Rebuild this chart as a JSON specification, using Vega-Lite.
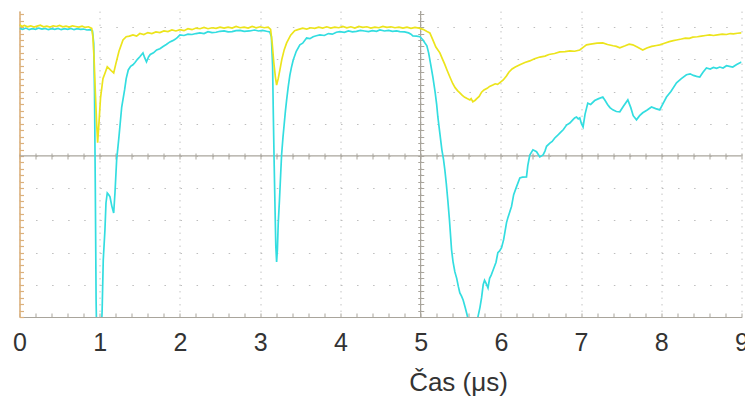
{
  "$schema": "https://vega.github.io/schema/vega-lite/v6.json",
  "width": 722,
  "height": 306,
  "autosize": {"type": "none"},
  "padding": {"left": 19.5, "top": 11, "right": 3.5, "bottom": 84},
  "background": "white",
  "config": {"view": {"stroke": null}, "font": "Liberation Sans"},
  "resolve": {"axis": {"x": "independent", "y": "independent"}},
  "layer": [
    {
      "data": {"values": [{}]},
      "mark": {"type": "rule", "color": "#a9a59c", "strokeWidth": 1.2},
      "encoding": {"y": {"datum": 0, "type": "quantitative", "scale": {"domain": [-5, 4.5], "nice": false, "zero": false}, "axis": null}}
    },
    {
      "data": {"values": [{}]},
      "mark": {"type": "rule", "color": "#a9a59c", "strokeWidth": 1.2},
      "encoding": {"x": {"datum": 5, "type": "quantitative", "scale": {"domain": [0, 9], "nice": false, "zero": false}, "axis": null}}
    },
    {
      "data": {"values": [
{"t":0,"v":3.96},{"t":0.04,"v":3.93},{"t":0.08,"v":3.97},{"t":0.12,"v":3.92},{"t":0.16,"v":3.95},{"t":0.2,"v":3.93},{"t":0.24,"v":3.97},{"t":0.28,"v":3.94},{"t":0.32,"v":3.96},{"t":0.36,"v":3.92},{"t":0.4,"v":3.95},{"t":0.44,"v":3.93},{"t":0.48,"v":3.96},{"t":0.52,"v":3.92},{"t":0.56,"v":3.95},{"t":0.6,"v":3.93},{"t":0.64,"v":3.96},{"t":0.68,"v":3.92},{"t":0.72,"v":3.95},{"t":0.76,"v":3.93},{"t":0.8,"v":3.94},{"t":0.84,"v":3.91},{"t":0.88,"v":3.92},{"t":0.91,"v":3.88},{"t":0.925,"v":3.5},{"t":0.935,"v":2.0},{"t":0.945,"v":-1.0},{"t":0.955,"v":-4.5},{"t":0.965,"v":-6.0},{"t":0.99,"v":-6.5},{"t":1.015,"v":-5.8},{"t":1.03,"v":-4.8},{"t":1.044,"v":-3.23},{"t":1.065,"v":-2.3},{"t":1.078,"v":-1.46},{"t":1.094,"v":-1.15},{"t":1.11,"v":-1.2},{"t":1.128,"v":-1.27},{"t":1.15,"v":-1.55},{"t":1.174,"v":-1.77},{"t":1.19,"v":-1.15},{"t":1.211,"v":-0.12},{"t":1.24,"v":0.6},{"t":1.274,"v":1.52},{"t":1.31,"v":2.05},{"t":1.33,"v":2.4},{"t":1.356,"v":2.67},{"t":1.385,"v":2.78},{"t":1.414,"v":2.83},{"t":1.44,"v":2.9},{"t":1.47,"v":3.0},{"t":1.5,"v":3.08},{"t":1.539,"v":3.2},{"t":1.56,"v":3.05},{"t":1.583,"v":2.92},{"t":1.61,"v":3.08},{"t":1.63,"v":3.15},{"t":1.67,"v":3.2},{"t":1.71,"v":3.29},{"t":1.75,"v":3.33},{"t":1.79,"v":3.4},{"t":1.83,"v":3.46},{"t":1.875,"v":3.54},{"t":1.91,"v":3.58},{"t":1.94,"v":3.62},{"t":1.97,"v":3.68},{"t":2.0,"v":3.76},{"t":2.05,"v":3.74},{"t":2.1,"v":3.78},{"t":2.15,"v":3.77},{"t":2.2,"v":3.8},{"t":2.249,"v":3.82},{"t":2.3,"v":3.8},{"t":2.35,"v":3.86},{"t":2.4,"v":3.83},{"t":2.45,"v":3.84},{"t":2.5,"v":3.87},{"t":2.55,"v":3.88},{"t":2.6,"v":3.85},{"t":2.65,"v":3.86},{"t":2.7,"v":3.89},{"t":2.75,"v":3.9},{"t":2.8,"v":3.87},{"t":2.87,"v":3.88},{"t":2.93,"v":3.91},{"t":2.98,"v":3.88},{"t":3.03,"v":3.9},{"t":3.08,"v":3.87},{"t":3.12,"v":3.85},{"t":3.14,"v":3.7},{"t":3.155,"v":2.8},{"t":3.163,"v":1.43},{"t":3.175,"v":-0.3},{"t":3.185,"v":-1.6},{"t":3.195,"v":-2.8},{"t":3.205,"v":-3.29},{"t":3.215,"v":-2.9},{"t":3.225,"v":-2.1},{"t":3.24,"v":-1.4},{"t":3.255,"v":-0.6},{"t":3.267,"v":0.03},{"t":3.285,"v":0.6},{"t":3.3,"v":1.0},{"t":3.315,"v":1.4},{"t":3.33,"v":1.74},{"t":3.35,"v":2.15},{"t":3.37,"v":2.5},{"t":3.39,"v":2.75},{"t":3.412,"v":2.98},{"t":3.45,"v":3.25},{"t":3.495,"v":3.45},{"t":3.53,"v":3.5},{"t":3.579,"v":3.66},{"t":3.62,"v":3.64},{"t":3.66,"v":3.7},{"t":3.7,"v":3.73},{"t":3.745,"v":3.76},{"t":3.8,"v":3.74},{"t":3.85,"v":3.8},{"t":3.9,"v":3.78},{"t":3.95,"v":3.84},{"t":3.994,"v":3.86},{"t":4.05,"v":3.84},{"t":4.1,"v":3.88},{"t":4.15,"v":3.85},{"t":4.2,"v":3.87},{"t":4.25,"v":3.9},{"t":4.3,"v":3.88},{"t":4.35,"v":3.86},{"t":4.4,"v":3.89},{"t":4.45,"v":3.87},{"t":4.492,"v":3.91},{"t":4.55,"v":3.88},{"t":4.6,"v":3.9},{"t":4.65,"v":3.87},{"t":4.7,"v":3.88},{"t":4.741,"v":3.86},{"t":4.8,"v":3.85},{"t":4.85,"v":3.82},{"t":4.88,"v":3.78},{"t":4.903,"v":3.73},{"t":4.95,"v":3.72},{"t":4.991,"v":3.7},{"t":5.03,"v":3.6},{"t":5.05,"v":3.52},{"t":5.078,"v":3.42},{"t":5.1,"v":3.2},{"t":5.125,"v":2.85},{"t":5.153,"v":2.45},{"t":5.18,"v":2.0},{"t":5.2,"v":1.6},{"t":5.215,"v":1.21},{"t":5.24,"v":0.7},{"t":5.265,"v":0.19},{"t":5.285,"v":-0.1},{"t":5.302,"v":-0.43},{"t":5.32,"v":-0.85},{"t":5.34,"v":-1.4},{"t":5.36,"v":-2.0},{"t":5.386,"v":-2.92},{"t":5.405,"v":-3.3},{"t":5.427,"v":-3.6},{"t":5.45,"v":-3.8},{"t":5.47,"v":-4.05},{"t":5.489,"v":-4.25},{"t":5.51,"v":-4.35},{"t":5.53,"v":-4.47},{"t":5.555,"v":-4.7},{"t":5.576,"v":-4.9},{"t":5.59,"v":-5.05},{"t":5.62,"v":-5.3},{"t":5.66,"v":-5.15},{"t":5.69,"v":-5.4},{"t":5.71,"v":-5.05},{"t":5.74,"v":-4.7},{"t":5.76,"v":-4.4},{"t":5.78,"v":-4.0},{"t":5.797,"v":-3.86},{"t":5.815,"v":-3.95},{"t":5.84,"v":-4.1},{"t":5.86,"v":-3.8},{"t":5.88,"v":-3.7},{"t":5.904,"v":-3.54},{"t":5.94,"v":-3.3},{"t":5.963,"v":-3.0},{"t":5.985,"v":-2.95},{"t":6.009,"v":-2.85},{"t":6.035,"v":-2.6},{"t":6.071,"v":-2.07},{"t":6.09,"v":-1.9},{"t":6.133,"v":-1.57},{"t":6.16,"v":-1.2},{"t":6.195,"v":-0.96},{"t":6.237,"v":-0.68},{"t":6.27,"v":-0.66},{"t":6.32,"v":-0.65},{"t":6.336,"v":-0.3},{"t":6.361,"v":0.03},{"t":6.4,"v":0.19},{"t":6.445,"v":0.13},{"t":6.486,"v":-0.03},{"t":6.527,"v":0.03},{"t":6.55,"v":0.15},{"t":6.57,"v":0.3},{"t":6.611,"v":0.4},{"t":6.64,"v":0.45},{"t":6.67,"v":0.55},{"t":6.7,"v":0.62},{"t":6.735,"v":0.71},{"t":6.78,"v":0.82},{"t":6.819,"v":0.96},{"t":6.86,"v":1.02},{"t":6.897,"v":1.12},{"t":6.92,"v":1.18},{"t":6.943,"v":1.21},{"t":6.965,"v":1.15},{"t":6.984,"v":1.18},{"t":7.005,"v":1.0},{"t":7.025,"v":0.9},{"t":7.05,"v":1.3},{"t":7.084,"v":1.64},{"t":7.12,"v":1.6},{"t":7.17,"v":1.72},{"t":7.22,"v":1.78},{"t":7.271,"v":1.83},{"t":7.3,"v":1.72},{"t":7.33,"v":1.6},{"t":7.36,"v":1.5},{"t":7.396,"v":1.43},{"t":7.44,"v":1.38},{"t":7.483,"v":1.37},{"t":7.53,"v":1.55},{"t":7.583,"v":1.74},{"t":7.62,"v":1.5},{"t":7.65,"v":1.25},{"t":7.691,"v":1.12},{"t":7.73,"v":1.25},{"t":7.769,"v":1.34},{"t":7.82,"v":1.42},{"t":7.878,"v":1.52},{"t":7.93,"v":1.47},{"t":7.981,"v":1.43},{"t":8.02,"v":1.62},{"t":8.065,"v":1.83},{"t":8.12,"v":2.0},{"t":8.19,"v":2.27},{"t":8.25,"v":2.4},{"t":8.314,"v":2.52},{"t":8.36,"v":2.55},{"t":8.4,"v":2.5},{"t":8.44,"v":2.47},{"t":8.48,"v":2.45},{"t":8.52,"v":2.6},{"t":8.563,"v":2.73},{"t":8.61,"v":2.7},{"t":8.65,"v":2.75},{"t":8.69,"v":2.72},{"t":8.729,"v":2.76},{"t":8.77,"v":2.73},{"t":8.813,"v":2.8},{"t":8.85,"v":2.78},{"t":8.891,"v":2.76},{"t":8.94,"v":2.84},{"t":9.0,"v":2.92}
      ]},
      "mark": {"type": "line", "color": "#33dde0", "strokeWidth": 1.7, "clip": true},
      "encoding": {
        "x": {"field": "t", "type": "quantitative", "scale": {"domain": [0, 9], "nice": false, "zero": false},
          "axis": {"orient": "bottom", "offset": -164, "values": [0,0.2,0.4,0.6,0.8,1,1.2,1.4,1.6,1.8,2,2.2,2.4,2.6,2.8,3,3.2,3.4,3.6,3.8,4,4.2,4.4,4.6,4.8,5,5.2,5.4,5.6,5.8,6,6.2,6.4,6.6,6.8,7,7.2,7.4,7.6,7.8,8,8.2,8.4,8.6,8.8,9], "domain": false, "labels": false, "grid": false, "tickSize": 6, "tickColor": "#a9a59c", "tickWidth": 1, "title": null}},
        "y": {"field": "v", "type": "quantitative", "scale": {"domain": [-5, 4.5], "nice": false, "zero": false},
          "axis": {"orient": "left", "offset": -404.25, "values": [-5,-4.8,-4.6,-4.4,-4.2,-4,-3.8,-3.6,-3.4,-3.2,-3,-2.8,-2.6,-2.4,-2.2,-2,-1.8,-1.6,-1.4,-1.2,-1,-0.8,-0.6,-0.4,-0.2,0,0.2,0.4,0.6,0.8,1,1.2,1.4,1.6,1.8,2,2.2,2.4,2.6,2.8,3,3.2,3.4,3.6,3.8,4,4.2,4.4], "domain": false, "labels": false, "grid": false, "tickSize": 6, "tickColor": "#a9a59c", "tickWidth": 1, "title": null}}
      }
    },
    {
      "data": {"values": [
{"t":0,"v":4.08},{"t":0.03,"v":4.02},{"t":0.06,"v":4.05},{"t":0.1,"v":4.01},{"t":0.14,"v":4.04},{"t":0.18,"v":4.0},{"t":0.22,"v":4.03},{"t":0.26,"v":4.06},{"t":0.3,"v":4.01},{"t":0.34,"v":4.03},{"t":0.38,"v":4.0},{"t":0.42,"v":4.04},{"t":0.46,"v":4.02},{"t":0.5,"v":4.05},{"t":0.54,"v":4.01},{"t":0.58,"v":4.03},{"t":0.62,"v":4.0},{"t":0.66,"v":4.04},{"t":0.7,"v":4.02},{"t":0.74,"v":4.0},{"t":0.78,"v":4.03},{"t":0.82,"v":3.99},{"t":0.86,"v":4.01},{"t":0.9,"v":3.96},{"t":0.915,"v":3.7},{"t":0.93,"v":3.0},{"t":0.945,"v":2.0},{"t":0.96,"v":1.1},{"t":0.974,"v":0.41},{"t":0.99,"v":1.0},{"t":1.01,"v":1.8},{"t":1.04,"v":2.4},{"t":1.07,"v":2.6},{"t":1.094,"v":2.77},{"t":1.13,"v":2.68},{"t":1.15,"v":2.63},{"t":1.174,"v":2.58},{"t":1.2,"v":2.85},{"t":1.24,"v":3.25},{"t":1.29,"v":3.6},{"t":1.33,"v":3.7},{"t":1.37,"v":3.72},{"t":1.414,"v":3.76},{"t":1.46,"v":3.72},{"t":1.5,"v":3.8},{"t":1.55,"v":3.77},{"t":1.6,"v":3.83},{"t":1.65,"v":3.8},{"t":1.7,"v":3.85},{"t":1.75,"v":3.83},{"t":1.8,"v":3.88},{"t":1.85,"v":3.86},{"t":1.9,"v":3.91},{"t":1.95,"v":3.88},{"t":2.0,"v":3.92},{"t":2.05,"v":3.89},{"t":2.1,"v":3.95},{"t":2.15,"v":3.92},{"t":2.2,"v":3.97},{"t":2.25,"v":3.95},{"t":2.3,"v":3.99},{"t":2.35,"v":3.95},{"t":2.4,"v":3.98},{"t":2.45,"v":3.96},{"t":2.5,"v":4.0},{"t":2.55,"v":3.97},{"t":2.6,"v":4.0},{"t":2.65,"v":3.97},{"t":2.7,"v":4.02},{"t":2.75,"v":3.98},{"t":2.8,"v":4.0},{"t":2.85,"v":3.97},{"t":2.9,"v":4.02},{"t":2.95,"v":3.98},{"t":3.0,"v":4.01},{"t":3.05,"v":3.98},{"t":3.1,"v":4.0},{"t":3.13,"v":3.93},{"t":3.15,"v":3.5},{"t":3.17,"v":2.9},{"t":3.19,"v":2.45},{"t":3.205,"v":2.2},{"t":3.225,"v":2.4},{"t":3.246,"v":2.67},{"t":3.27,"v":3.0},{"t":3.3,"v":3.3},{"t":3.33,"v":3.51},{"t":3.38,"v":3.75},{"t":3.43,"v":3.89},{"t":3.48,"v":3.93},{"t":3.53,"v":3.97},{"t":3.58,"v":3.94},{"t":3.63,"v":3.98},{"t":3.68,"v":3.96},{"t":3.73,"v":4.0},{"t":3.78,"v":3.97},{"t":3.83,"v":4.01},{"t":3.88,"v":3.97},{"t":3.93,"v":4.0},{"t":3.98,"v":3.98},{"t":4.03,"v":4.02},{"t":4.08,"v":3.98},{"t":4.13,"v":4.01},{"t":4.18,"v":3.97},{"t":4.23,"v":4.02},{"t":4.28,"v":3.99},{"t":4.33,"v":4.01},{"t":4.38,"v":3.97},{"t":4.43,"v":4.0},{"t":4.48,"v":3.98},{"t":4.53,"v":4.02},{"t":4.58,"v":3.99},{"t":4.63,"v":4.01},{"t":4.68,"v":3.98},{"t":4.73,"v":4.0},{"t":4.78,"v":3.97},{"t":4.83,"v":4.0},{"t":4.88,"v":3.96},{"t":4.93,"v":3.99},{"t":4.98,"v":3.97},{"t":5.03,"v":3.93},{"t":5.08,"v":3.86},{"t":5.115,"v":3.82},{"t":5.15,"v":3.62},{"t":5.19,"v":3.38},{"t":5.24,"v":3.2},{"t":5.27,"v":3.02},{"t":5.3,"v":2.85},{"t":5.33,"v":2.66},{"t":5.365,"v":2.45},{"t":5.4,"v":2.25},{"t":5.43,"v":2.12},{"t":5.46,"v":2.03},{"t":5.489,"v":1.96},{"t":5.52,"v":1.88},{"t":5.55,"v":1.82},{"t":5.58,"v":1.78},{"t":5.614,"v":1.74},{"t":5.63,"v":1.78},{"t":5.651,"v":1.68},{"t":5.68,"v":1.73},{"t":5.7,"v":1.78},{"t":5.73,"v":1.85},{"t":5.76,"v":1.98},{"t":5.79,"v":2.05},{"t":5.83,"v":2.1},{"t":5.86,"v":2.16},{"t":5.9,"v":2.2},{"t":5.93,"v":2.24},{"t":5.96,"v":2.22},{"t":6.0,"v":2.3},{"t":6.03,"v":2.36},{"t":6.07,"v":2.48},{"t":6.1,"v":2.6},{"t":6.14,"v":2.7},{"t":6.18,"v":2.76},{"t":6.237,"v":2.83},{"t":6.3,"v":2.9},{"t":6.36,"v":2.95},{"t":6.42,"v":3.02},{"t":6.486,"v":3.07},{"t":6.55,"v":3.1},{"t":6.6,"v":3.15},{"t":6.67,"v":3.18},{"t":6.735,"v":3.23},{"t":6.8,"v":3.24},{"t":6.86,"v":3.26},{"t":6.92,"v":3.25},{"t":6.984,"v":3.29},{"t":7.03,"v":3.38},{"t":7.068,"v":3.45},{"t":7.12,"v":3.47},{"t":7.2,"v":3.5},{"t":7.271,"v":3.51},{"t":7.33,"v":3.46},{"t":7.4,"v":3.42},{"t":7.44,"v":3.4},{"t":7.483,"v":3.36},{"t":7.55,"v":3.42},{"t":7.6,"v":3.47},{"t":7.645,"v":3.45},{"t":7.7,"v":3.38},{"t":7.74,"v":3.33},{"t":7.769,"v":3.29},{"t":7.82,"v":3.35},{"t":7.88,"v":3.4},{"t":7.94,"v":3.43},{"t":7.981,"v":3.45},{"t":8.04,"v":3.5},{"t":8.1,"v":3.55},{"t":8.15,"v":3.58},{"t":8.19,"v":3.6},{"t":8.25,"v":3.63},{"t":8.3,"v":3.66},{"t":8.35,"v":3.65},{"t":8.393,"v":3.69},{"t":8.45,"v":3.7},{"t":8.5,"v":3.72},{"t":8.55,"v":3.74},{"t":8.604,"v":3.76},{"t":8.65,"v":3.74},{"t":8.7,"v":3.76},{"t":8.76,"v":3.78},{"t":8.813,"v":3.77},{"t":8.86,"v":3.8},{"t":8.9,"v":3.79},{"t":8.95,"v":3.81},{"t":9.0,"v":3.82}
      ]},
      "mark": {"type": "line", "color": "#ece41c", "strokeWidth": 1.7, "clip": true},
      "encoding": {
        "x": {"field": "t", "type": "quantitative", "scale": {"domain": [0, 9], "nice": false, "zero": false},
          "axis": {"orient": "bottom", "values": [0,0.2,0.4,0.6,0.8,1,1.2,1.4,1.6,1.8,2,2.2,2.4,2.6,2.8,3,3.2,3.4,3.6,3.8,4,4.2,4.4,4.6,4.8,5,5.2,5.4,5.6,5.8,6,6.2,6.4,6.6,6.8,7,7.2,7.4,7.6,7.8,8,8.2,8.4,8.6,8.8,9],
            "labelExpr": "datum.value % 1 === 0 ? '' + datum.value : ''", "labelOverlap": false, "labelBound": false, "labelFlush": false,
            "labelFont": "Liberation Sans", "labelFontSize": 25, "labelColor": "#333333", "labelPadding": 17,
            "domain": true, "domainColor": "#a9a59c", "domainWidth": 1.2,
            "ticks": true, "tickSize": -4, "tickColor": "#a9a59c", "tickWidth": 1,
            "grid": true, "gridColor": "#c4c4c4", "gridDash": [1.5, 5], "gridWidth": 1,
            "gridOpacity": {"condition": {"test": "datum.value % 1 === 0", "value": 1}, "value": 0},
            "title": "Čas (μs)", "titleFont": "Liberation Sans", "titleFontSize": 26, "titleFontWeight": "normal", "titleColor": "#333333",
            "titleX": 438.5, "titleY": 65, "titleAlign": "center", "titleBaseline": "middle", "titleAnchor": null}},
        "y": {"field": "v", "type": "quantitative", "scale": {"domain": [-5, 4.5], "nice": false, "zero": false},
          "axis": {"orient": "left", "values": [-5,-4.8,-4.6,-4.4,-4.2,-4,-3.8,-3.6,-3.4,-3.2,-3,-2.8,-2.6,-2.4,-2.2,-2,-1.8,-1.6,-1.4,-1.2,-1,-0.8,-0.6,-0.4,-0.2,0,0.2,0.4,0.6,0.8,1,1.2,1.4,1.6,1.8,2,2.2,2.4,2.6,2.8,3,3.2,3.4,3.6,3.8,4,4.2,4.4],
            "labels": false, "domain": true, "domainColor": "#dcb17c", "domainWidth": 1.6,
            "ticks": true, "tickSize": -4, "tickColor": "#dcb17c", "tickWidth": 1.2,
            "grid": true, "gridColor": "#bdbdbd", "gridDash": [1.5, 14.55], "gridWidth": 1.2,
            "gridOpacity": {"condition": {"test": "datum.value % 1 === 0", "value": 1}, "value": 0},
            "title": null}}
      }
    }
  ]
}
